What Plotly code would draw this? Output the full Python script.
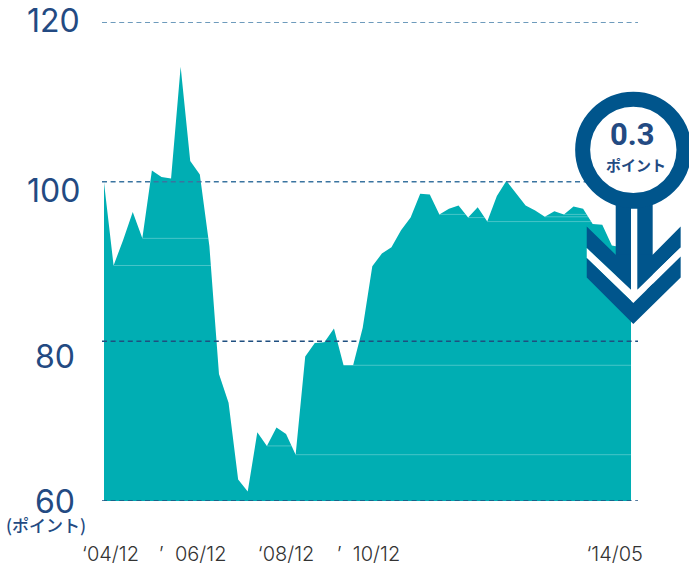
import plotly.graph_objects as go

W, H = 689, 566
L, R, T, B = 101.5, 638.0, 22.0, 501.5
X0, DX = 103.5, 9.591

index_values = [
    99.9, 89.5, 92.7, 96.2, 92.9, 101.4, 100.6, 100.4, 114.4, 102.6,
    100.9, 91.9, 75.9, 72.3, 62.7, 61.2, 68.6, 66.9, 69.2, 68.4,
    65.8, 78.1, 79.8, 79.9, 81.6, 77.0, 77.0, 81.7, 89.4, 91.0,
    91.8, 93.9, 95.5, 98.5, 98.4, 95.9, 96.6, 97.0, 95.5, 96.8,
    95.0, 98.2, 100.1, 98.6, 97.0, 96.4, 95.6, 96.3, 95.9, 96.9,
    96.6, 94.7, 94.6, 92.0, 91.8, 91.5,
]
periods = list(range(len(index_values)))
seam_starts = [1, 4, 17, 20, 26, 35, 38, 40, 46, 48]
y_ticks = [120, 100, 80, 60]
y_labels = ["120", "100", "80", "60"]
y_label_shift = [2, -9, -15, 0]
y_label_right = [81, 81, 76, 76]
x_tick_pos = [0.68, 9.25, 19.0, 27.6, 53.3]
x_tick_text = ["‘04/12", "’\u00a0\u00a006/12", "‘08/12", "’\u00a0\u00a010/12", "‘14/05"]
unit_text = "(ポイント)"
badge_value = "0.3"
badge_unit = "ポイント"

TEAL = "#00aeb3"
NAVY = "#234a82"
ARROW = "#00558c"


def px(x):
    return (x - L) / (R - L)


def py(y):
    return (B - y) / (B - T)


def path(points):
    return "M" + " L".join(f"{px(a):.5f},{py(b):.5f}" for a, b in points) + " Z"


def seam_end(i):
    v = index_values[i]
    for j in range(i + 1, len(index_values)):
        if index_values[j] < v:
            a, b = index_values[j - 1], index_values[j]
            return j - 1 + (a - v) / (a - b)
    return periods[-1]


fig = go.Figure()
fig.add_trace(go.Scatter(x=periods, y=index_values, mode="lines", fill="tozeroy",
                         fillcolor=TEAL, line=dict(width=0, color=TEAL),
                         hoverinfo="skip", showlegend=False))
for s in seam_starts:
    fig.add_trace(go.Scatter(x=[s, seam_end(s)], y=[index_values[s]] * 2, mode="lines",
                             line=dict(width=1, color="rgba(255,255,255,0.28)"),
                             hoverinfo="skip", showlegend=False))

shapes = []
for v, c in zip(y_ticks, ["#3f7ba6", "#3a74a0", "#1f4f80", "#1f4f80"]):
    shapes.append(dict(type="line", xref="paper", yref="y", x0=0, x1=1, y0=v, y1=v,
                       line=dict(color=c, width=1.5, dash="5px,3.6px"), layer="above"))

# arrow badge
shapes.append(dict(type="path", xref="paper", yref="paper", line=dict(width=0), fillcolor=ARROW,
                   path=path([(615.7, 195), (652.7, 195), (652.7, 290), (615.7, 290)])))
shapes.append(dict(type="path", xref="paper", yref="paper", line=dict(width=0), fillcolor=ARROW,
                   path=path([(586.7, 226.7), (615.7, 255), (631, 255), (631, 290), (586.7, 248.3)])))
shapes.append(dict(type="path", xref="paper", yref="paper", line=dict(width=0), fillcolor=ARROW,
                   path=path([(652.7, 255), (680.7, 226.7), (680.7, 247.7), (637.3, 290), (637.3, 255)])))
shapes.append(dict(type="path", xref="paper", yref="paper", line=dict(width=0), fillcolor="#ffffff",
                   path=path([(586.7, 248.3), (631, 290), (631, 209), (637.3, 209), (637.3, 290),
                              (680.7, 247.7), (680.7, 256.7), (633.3, 303.3), (586.7, 258.3)])))
shapes.append(dict(type="path", xref="paper", yref="paper", line=dict(width=0), fillcolor=ARROW,
                   path=path([(586.7, 258.3), (633.3, 303.3), (680.7, 256.7), (680.7, 277.7),
                              (633.3, 324.3), (586.7, 277.7)])))
shapes.append(dict(type="circle", xref="paper", yref="paper", fillcolor="#ffffff",
                   line=dict(color=ARROW, width=15),
                   x0=px(633.3 - 50.7), x1=px(633.3 + 50.7), y0=py(150 + 50.7), y1=py(150 - 50.7)))

annotations = []
for v, t, s, r in zip(y_ticks, y_labels, y_label_shift, y_label_right):
    annotations.append(dict(xref="paper", yref="y", x=px(r), y=v, yshift=s, text=t, showarrow=False,
                            xanchor="right", yanchor="middle", xshift=0,
                            font=dict(family="Inter", size=32, color=NAVY, weight=400)))
annotations.append(dict(xref="paper", yref="paper", x=px(45), y=py(525), text=unit_text, showarrow=False,
                        xanchor="center", yanchor="middle",
                        font=dict(family="Noto Sans CJK JP", size=17, color=NAVY, weight=500)))
annotations.append(dict(xref="paper", yref="paper", x=px(632.5), y=py(135), text=badge_value, showarrow=False,
                        xanchor="center", yanchor="middle",
                        font=dict(family="Roboto", size=31, color=NAVY, weight=700)))
annotations.append(dict(xref="paper", yref="paper", x=px(636), y=py(165), text=badge_unit, showarrow=False,
                        xanchor="center", yanchor="middle",
                        font=dict(family="Noto Sans CJK JP", size=15, color=NAVY, weight=700)))

fig.update_layout(
    width=W, height=H, autosize=False,
    margin=dict(l=L, r=W - R, t=T, b=H - B, pad=0),
    paper_bgcolor="#ffffff", plot_bgcolor="#ffffff", showlegend=False,
    shapes=shapes, annotations=annotations,
    xaxis=dict(range=[(L - X0) / DX, (R - X0) / DX], tickmode="array", tickvals=x_tick_pos,
               ticktext=x_tick_text, showgrid=False, zeroline=False, showline=False, ticks="",
               ticklabelstandoff=39, automargin=False,
               tickfont=dict(family="Inter", size=20, color="#333333", weight=300)),
    yaxis=dict(range=[60, 120], tickmode="array", tickvals=y_ticks, showticklabels=False,
               showgrid=False, zeroline=False, showline=False, ticks="", automargin=False),
)
fig.write_html("out.html", config=dict(displayModeBar=False),
               post_script="document.body.style.margin='0';document.documentElement.style.overflow='hidden';")
